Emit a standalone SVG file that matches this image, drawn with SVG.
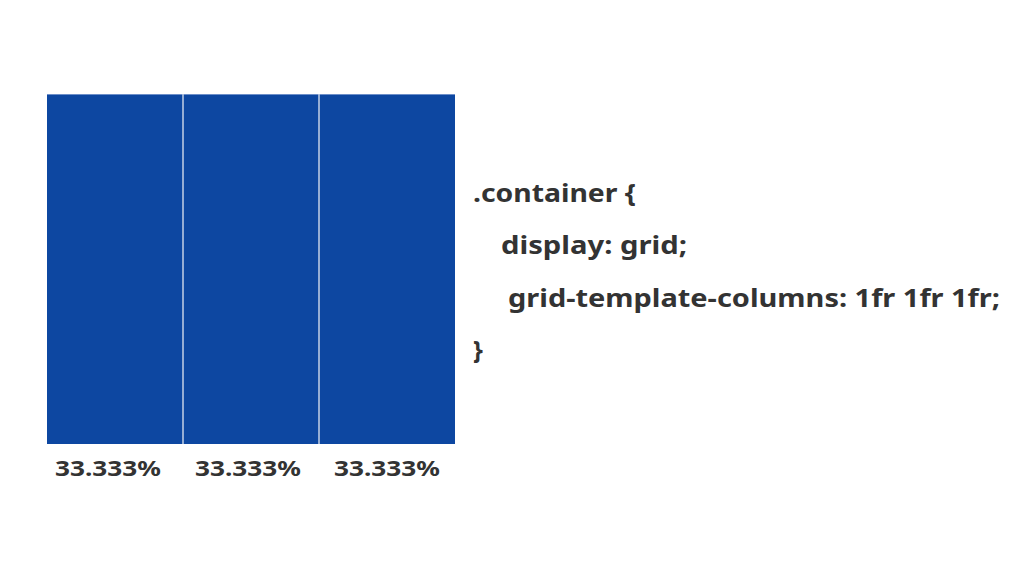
<svg xmlns="http://www.w3.org/2000/svg" width="1024" height="576" viewBox="0 0 1024 576">
<style>
.t{font-family:"Noto Sans","Open Sans",sans-serif;font-weight:700;fill:#333333;}
.code{font-size:25px;}
.lbl{font-size:22px;}
.col{fill:#0d47a1;}
.div{stroke:#c5d0e6;stroke-width:1.5;}
</style>
<rect width="1024" height="576" fill="#ffffff"/>
<g id="grid">
<rect class="col" x="47" y="94" width="408" height="350"/>
<line x1="47" y1="94.5" x2="455" y2="94.5" stroke="#6d8fc9" stroke-width="1"/>
<line class="div" x1="183" y1="94" x2="183" y2="444"/>
<line class="div" x1="319" y1="94" x2="319" y2="444"/>
</g>
<g id="labels">
<text class="t lbl" x="55" y="476" textLength="106" lengthAdjust="spacingAndGlyphs">33.333%</text>
<text class="t lbl" x="195" y="476" textLength="106" lengthAdjust="spacingAndGlyphs">33.333%</text>
<text class="t lbl" x="334" y="476" textLength="106" lengthAdjust="spacingAndGlyphs">33.333%</text>
</g>
<g id="code">
<text class="t code" x="473" y="202" textLength="163" lengthAdjust="spacingAndGlyphs">.container {</text>
<text class="t code" x="501" y="254" textLength="186" lengthAdjust="spacingAndGlyphs">display: grid;</text>
<text class="t code" x="508" y="307" textLength="492" lengthAdjust="spacingAndGlyphs">grid-template-columns: 1fr 1fr 1fr;</text>
<text class="t code" x="473" y="359">}</text>
</g>
</svg>
